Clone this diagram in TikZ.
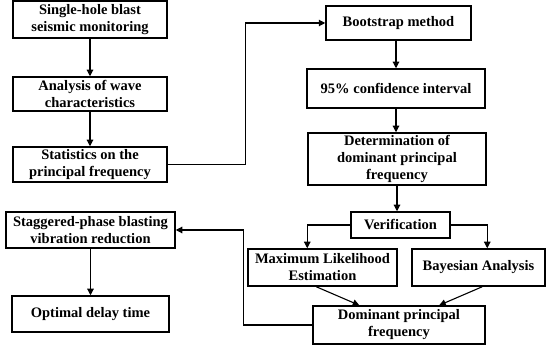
\documentclass[tikz,border=0pt]{standalone}
\usepackage{fontspec}
\setmainfont{Liberation Serif}
\usetikzlibrary{arrows.meta}
\begin{document}
\begin{tikzpicture}[x=1pt,y=-1pt,
  box/.style={draw,line width=1.5pt,rectangle,inner sep=0pt,align=center,
    font=\bfseries\fontsize{14.5}{17}\selectfont},
  arr/.style={line width=1.1pt,-{Triangle[length=6.5pt,width=6.5pt]}},
  ln/.style={line width=1.1pt}]
\useasboundingbox (0,0) rectangle (550,350);
\node[box,minimum width=154pt,minimum height=37pt] (b1) at (90,19.5) {Single-hole blast\\seismic monitoring};
\node[box,minimum width=154pt,minimum height=34pt] (b2) at (90,94) {Analysis of wave\\characteristics};
\node[box,minimum width=154pt,minimum height=35pt] (b3) at (90,164.5) {Statistics on the\\principal frequency};
\node[box,minimum width=169pt,minimum height=36pt] (stag) at (90.5,230) {Staggered-phase blasting\\vibration reduction};
\node[box,minimum width=157pt,minimum height=36pt] (opt) at (90.5,314) {Optimal delay time};
\node[box,minimum width=145pt,minimum height=34pt] (boot) at (398.5,23) {Bootstrap method};
\node[box,minimum width=178pt,minimum height=39pt] (ci) at (396,88.5) {95\% confidence interval};
\node[box,minimum width=178pt,minimum height=52pt] (det) at (397,159) {Determination of\\dominant principal\\frequency};
\node[box,minimum width=99pt,minimum height=26pt] (ver) at (400.5,225) {Verification};
\node[box,minimum width=149pt,minimum height=37pt] (mle) at (322.5,267.5) {Maximum Likelihood\\Estimation};
\node[box,minimum width=133pt,minimum height=37pt] (bay) at (478.5,267.5) {Bayesian Analysis};
\node[box,minimum width=172pt,minimum height=38pt] (dom) at (399,325) {Dominant principal\\frequency};
\draw[arr] (b1) -- (b2);
\draw[arr] (b2) -- (b3);
\draw[arr] (b3.east) -- ++(78,0) |- (boot.west);
\draw[arr] (boot.south -| 396,0) -- (ci.north -| 396,0);
\draw[arr] (ci.south -| 396,0) -- (det.north -| 396,0);
\draw[arr] (det.south -| 397,0) -- (ver.north -| 397,0);
\draw[arr] (ver.west) -| ([xshift=60pt]mle.north west);
\draw[arr] (ver.east) -| ([xshift=76pt]bay.north west);
\draw[arr] ([xshift=69pt]mle.south west) -- ([xshift=47pt]dom.north west);
\draw[arr] ([xshift=71pt]bay.south west) -- ([xshift=127pt]dom.north west);
\draw[arr] (dom.west) -- ++(-69,0) |- (stag.east);
\draw[arr] (stag) -- (opt);
\end{tikzpicture}
\end{document}
